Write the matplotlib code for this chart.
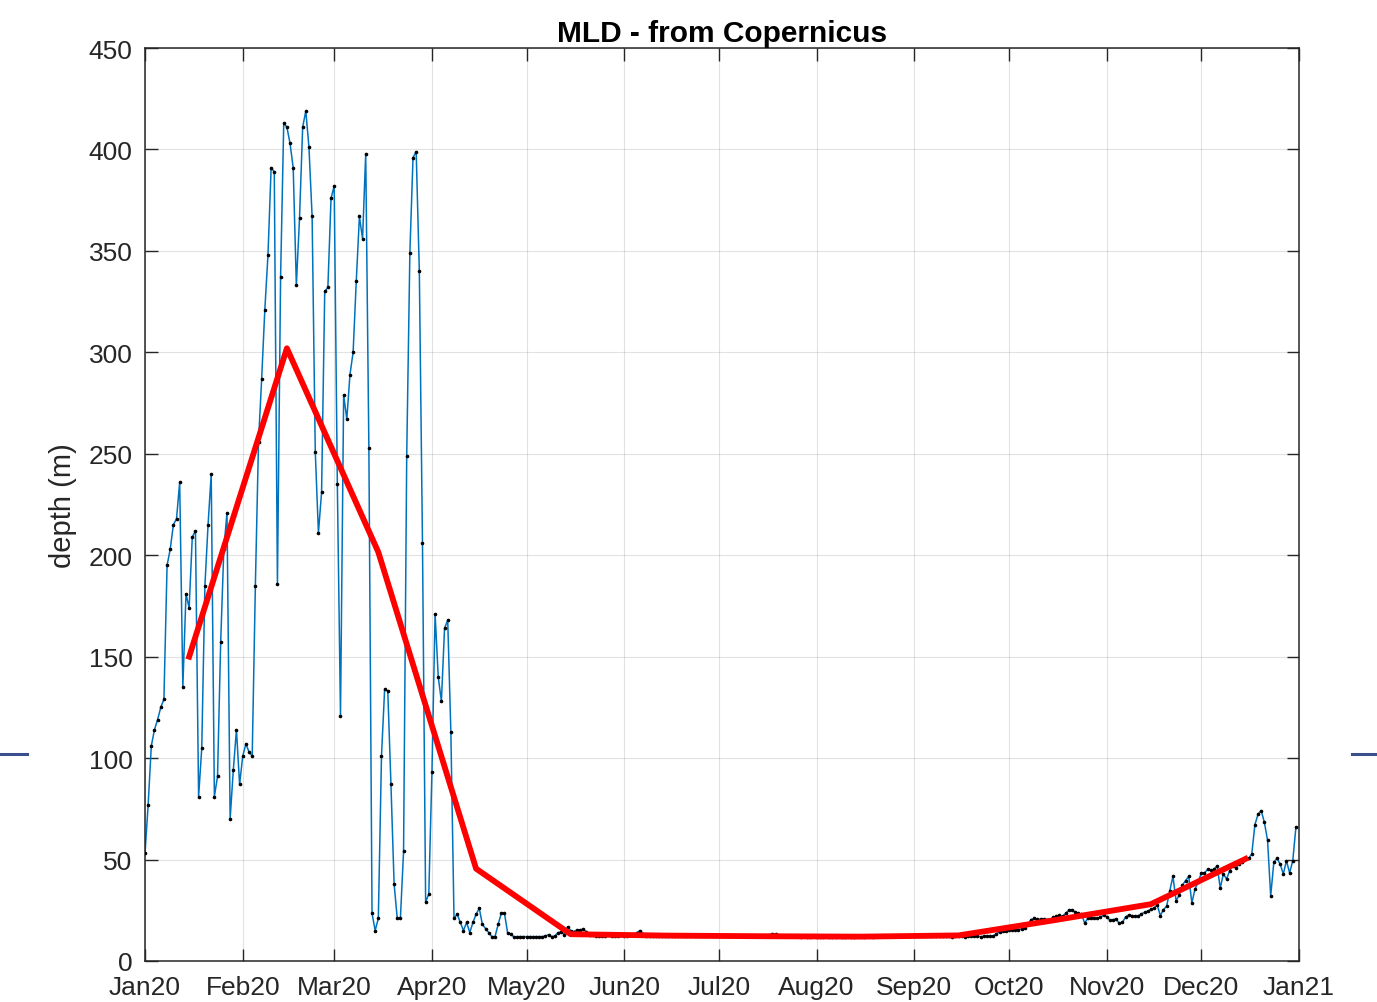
import matplotlib
matplotlib.use("Agg")
import matplotlib.pyplot as plt
from matplotlib.lines import Line2D
import numpy as np

plt.rcParams['font.family'] = ['Liberation Sans', 'DejaVu Sans']

# daily mixed layer depth (m), 1 Jan 2020 .. 31 Dec 2020
mld_jan_mar = [53, 77, 106, 114, 119, 125, 129, 195, 203, 215, 218, 236, 135, 181, 174,
               209, 212, 81, 105, 185, 215, 240, 81, 91, 157, 203, 221, 70, 94, 114,
               87, 101, 107, 103, 101, 185, 256, 287, 321, 348, 391, 389, 186, 337, 413,
               411, 403, 391, 333, 366, 411, 419, 401, 367, 251, 211, 231, 330, 332, 376,
               382, 235, 121, 279, 267, 289, 300, 335, 367, 356, 398, 253, 23.5, 15, 21,
               101, 134, 133, 87, 38, 21, 21, 54, 249, 349, 396, 399, 340, 206, 29,
               33, 93, 171, 140, 128, 164, 168, 113, 21, 23, 19, 15, 19, 14, 19,
               23, 26, 18, 16, 14, 12, 12, 18]
mld_may_jun = [23.6, 23.6, 13.8, 13.3, 11.8, 12, 12, 12, 12, 12, 12, 12, 12, 12,
               12.3, 13, 12, 12.3, 14, 14.3, 13, 16.9, 15, 14.5, 15.3, 15.3, 15.7, 14.3, 13,
               12.6, 12.5, 12.5, 12.4, 12.5, 12.6, 12.5, 12.4, 12.5, 12.6, 12.5, 12.5, 12.6,
               12.8, 14, 15, 13.5]
mld_summer = [12.4, 12.3, 12.4, 12.5, 12.3, 12.4, 12.3, 12.3, 12.2, 12.3, 12.3, 12.2, 12.3,
              12.2, 12.2, 12.3, 12.2, 12.2, 12.1, 12.2, 12.2, 12.1, 12.2, 12.1, 12.1, 12.2,
              12.1, 12.1, 12.2, 12.1, 12.1, 12.2, 12.1, 12.2, 12.3, 12.2, 12.2, 12.3, 12.4,
              12.6, 13.5, 13.3, 12.5, 12.3, 12.2, 12.2, 12.1, 12.1, 12.1, 12.0, 12.1, 12.0,
              12.0, 12.1, 12.0, 12.0, 12.0, 12.1, 12.0, 12.0, 12.0, 12.1, 12.0, 12.0, 12.1,
              12.0, 12.0, 12.1, 12.1, 12.0, 12.1, 12.1, 12.0, 12.1, 12.1, 12.2, 12.1, 12.1,
              12.2, 12.1, 12.2, 12.2, 12.1, 12.2, 12.2, 12.3, 12.2, 12.3, 12.2, 12.3, 12.2,
              12.3, 12.2, 12.3, 12.2, 12.3, 12.2, 12.0, 12.2, 12.2, 12.1, 12.0, 12.2, 12.1,
              12.3, 12.2, 12.0, 12.1, 12.3, 12.2, 12.4, 13.3, 14.5]
mld_oct_dec = [14.8, 15.0, 15.2, 15.5, 15.3, 15.4, 15.8, 16.3, 18.0, 20.4, 21.0, 20.5,
               20.7, 20.6, 20.4, 20.4, 21.5, 22.0, 22.7, 22.0, 23.5, 25.1, 25.3, 24.0,
               23.5, 23.0, 18.7, 21.0, 21.0, 21.0, 21.0, 21.5, 22.7, 21.8, 20.1, 20.4,
               20.6, 18.5, 19.0, 21.8, 22.7, 22.4, 22.0, 22.3, 23.2, 24.0, 24.5, 25.5,
               26.0, 27.6, 22.4, 25.3, 27.0, 34.6, 41.7, 29.7, 32.5, 37.4, 39.6, 41.7,
               28.6, 35.5, 38.8, 43.4, 43.4, 45.1, 44.6, 45.1, 47.0, 36.0, 42.9, 40.4,
               44.5, 47.0, 45.8, 48.0, 49.0, 51.0, 50.6, 52.7, 67.2, 72.4, 74.1, 68.3,
               59.6, 32.1, 48.6, 50.6, 47.8, 42.9, 49.4, 43.4, 49.4, 65.9]

mld = np.array(mld_jan_mar + mld_may_jun + mld_summer + mld_oct_dec)
days = np.datetime64('2020-01-01') + np.arange(len(mld))

# monthly means, plotted at mid-month
month_mid = np.array(['2020-%02d-15' % m for m in range(1, 13)], dtype='datetime64[D]')
month_mean = [150, 302, 201.5, 45.5, 13.2, 12.5, 12.2, 12.0, 12.6, 20.0, 28.0, 50.3]

tick_dates = np.array(['2020-%02d-01' % m for m in range(1, 13)] + ['2021-01-01'],
                      dtype='datetime64[D]')
tick_labels = ['Jan20', 'Feb20', 'Mar20', 'Apr20', 'May20', 'Jun20', 'Jul20',
               'Aug20', 'Sep20', 'Oct20', 'Nov20', 'Dec20', 'Jan21']

fig = plt.figure(figsize=(13.77, 10.03), dpi=100)
ax = fig.add_axes([0.1053, 0.0409, 0.8381, 0.9102])

ax.plot(days, mld, '-', color='#0072BD', lw=1.1, zorder=2)
ax.plot(days, mld, '.', color='black', ms=3.2, zorder=3)
ax.plot(month_mid, month_mean, '-', color='#FF0000', lw=4.2, zorder=4)

ax.set_xlim(tick_dates[0], tick_dates[-1])
ax.set_ylim(0, 450)
ax.set_xticks(tick_dates)
ax.set_xticklabels(tick_labels)
ax.set_yticks(np.arange(0, 451, 50))

ax.grid(True, color='#262626', alpha=0.13, lw=0.8)
ax.set_axisbelow(True)
ax.tick_params(direction='in', length=9, width=1, colors='#262626', labelsize=19,
               top=True, right=True)
ax.tick_params(axis='x', pad=10)
ax.tick_params(axis='y', pad=9)
for s in ax.spines.values():
    s.set_color('#262626')
    s.set_linewidth(1.1)

ax.set_ylabel('depth (m)', fontsize=21, color='#262626', labelpad=8)
ax.set_title('MLD - from Copernicus', fontsize=21.5, fontweight='bold', pad=5)

# small markers at the page edges
for x0, x1 in [(0.0, 0.0196), (0.982, 1.0)]:
    fig.add_artist(Line2D([x0, x1], [0.2473, 0.2473], color='#3b4f8f', lw=2.2))

fig.savefig('out.png', dpi=100)
